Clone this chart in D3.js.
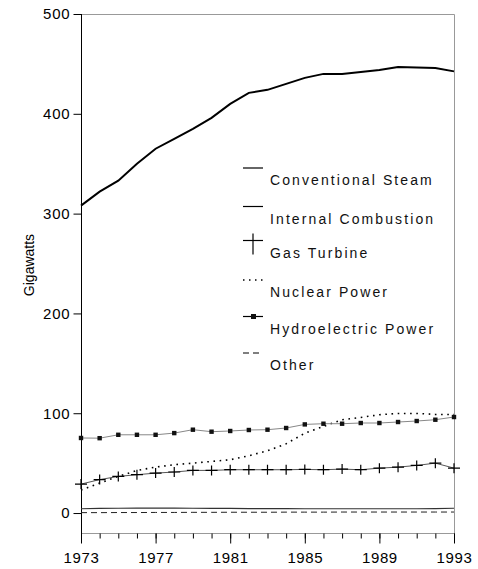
<!DOCTYPE html>
<html>
<head>
<meta charset="utf-8">
<script src="https://cdn.jsdelivr.net/npm/d3@7"></script>
<style>
  html, body { margin: 0; padding: 0; background: #fff; }
  svg { display: block; font-family: "Liberation Sans", Arial, sans-serif; }
</style>
</head>
<body>
<svg id="chart" width="478" height="569"></svg>
<script>
// Installed generating capacity by prime mover, 1973-1993 (gigawatts)
const years = d3.range(1973, 1994);
const conventionalSteam = [308, 322, 333, 350, 365, 375, 385, 396, 410, 421, 424, 430, 436, 440, 440, 442, 444, 447, 446.5, 446, 442.5];
const internalCombustion = [4.3, 4.6, 4.8, 4.9, 4.9, 4.9, 4.8, 4.7, 4.6, 4.5, 4.4, 4.4, 4.3, 4.3, 4.3, 4.3, 4.3, 4.3, 4.3, 4.4, 4.8];
const gasTurbine = [29, 33.5, 36.7, 38.4, 40, 41.1, 42.7, 42.7, 43.4, 43.4, 43.4, 43.4, 43.7, 43.4, 44, 43.4, 45, 46, 47.7, 50, 45];
const nuclearPower = [23, 30, 36.7, 42.7, 46, 48.4, 50, 51.7, 53.4, 57.4, 62.4, 69.4, 80, 86.8, 93.5, 95.8, 98.5, 99.8, 99.8, 98.8, 98.8];
const hydroelectricPower = [75.2, 75, 78.4, 78.4, 78.4, 80.1, 83.5, 81.5, 82.2, 83.2, 83.5, 85.2, 88.8, 89.5, 89.5, 90.2, 90.2, 91.2, 92.2, 93.5, 96.2];
const otherCapacity = [0.4, 0.4, 0.5, 0.5, 0.6, 0.6, 0.7, 0.7, 0.8, 0.8, 0.8, 0.9, 0.9, 0.9, 1.0, 1.0, 1.0, 1.0, 1.0, 1.0, 1.0];
const xTickLabels = [1973, 1977, 1981, 1985, 1989, 1993];
const yTickLabels = [0, 100, 200, 300, 400, 500];
const legendLabels = ["Conventional Steam", "Internal Combustion", "Gas Turbine", "Nuclear Power", "Hydroelectric Power", "Other"];

const svg = d3.select("#chart");
const plotLeft = 81, plotRight = 454, plotTop = 14, plotBottom = 533;

const x = d3.scaleLinear().domain([1973, 1993]).range([plotLeft, plotRight]);
const y = d3.scaleLinear().domain([-20, 500]).range([plotBottom, plotTop]);

// plot frame (top, right, bottom in grey)
svg.append("path")
  .attr("d", `M${plotLeft},${plotTop + 0.5}H${plotRight + 0.5}V${plotBottom + 0.5}H${plotLeft}`)
  .attr("fill", "none").attr("stroke", "#999").attr("stroke-width", 1);

// y axis
const yAxis = svg.append("g").attr("transform", `translate(${plotLeft + 0.5},0)`)
  .call(d3.axisLeft(y).tickValues(yTickLabels).tickSize(8).tickSizeOuter(0).tickPadding(3));
yAxis.select(".domain").attr("d", `M0,${plotTop}V${plotBottom + 10}`).attr("stroke", "#000");
yAxis.selectAll(".tick line").attr("stroke", "#000");
yAxis.selectAll(".tick text").attr("font-size", 15).attr("fill", "#000")
  .attr("font-family", "Liberation Sans, Arial, sans-serif").attr("letter-spacing", 0.8);

// x axis: minor yearly ticks and major ticks every four years
const xg = svg.append("g").attr("transform", `translate(0,${plotBottom + 0.5})`);
xg.call(d3.axisBottom(x).tickValues(years).tickSize(5).tickFormat(""))
  .select(".domain").remove();
xg.selectAll(".tick line").attr("stroke", "#000");
const xMajor = svg.append("g").attr("transform", `translate(0,${plotBottom + 0.5})`)
  .call(d3.axisBottom(x).tickValues(xTickLabels).tickSize(10).tickPadding(9).tickFormat(d3.format("d")));
xMajor.select(".domain").remove();
xMajor.selectAll(".tick line").attr("stroke", "#000");
xMajor.selectAll(".tick text").attr("font-size", 15).attr("fill", "#000")
  .attr("font-family", "Liberation Sans, Arial, sans-serif").attr("letter-spacing", 0.6);

// y axis title
svg.append("text")
  .attr("transform", `translate(34,265) rotate(-90)`)
  .attr("text-anchor", "middle")
  .attr("font-size", 14)
  .text("Gigawatts");

const line = d3.line().x((d, i) => x(years[i])).y(d => y(d));

// series
svg.append("path").datum(otherCapacity).attr("d", line)
  .attr("fill", "none").attr("stroke", "#222").attr("stroke-width", 1).attr("stroke-dasharray", "6,4");
svg.append("path").datum(internalCombustion).attr("d", line)
  .attr("fill", "none").attr("stroke", "#333").attr("stroke-width", 1.2);
svg.append("path").datum(gasTurbine).attr("d", line)
  .attr("fill", "none").attr("stroke", "#555").attr("stroke-width", 1);
svg.append("path").datum(nuclearPower).attr("d", line)
  .attr("fill", "none").attr("stroke", "#000").attr("stroke-width", 1.6)
  .attr("stroke-dasharray", "1.6,4.6");
svg.append("path").datum(hydroelectricPower).attr("d", line)
  .attr("fill", "none").attr("stroke", "#888").attr("stroke-width", 1);
svg.append("path").datum(conventionalSteam).attr("d", line)
  .attr("fill", "none").attr("stroke", "#000").attr("stroke-width", 2);

// markers
svg.append("g").selectAll("path").data(gasTurbine).join("path")
  .attr("d", (d, i) => `M${x(years[i]) - 6},${y(d)}h12M${x(years[i])},${y(d) - 5}v10`)
  .attr("stroke", "#000").attr("stroke-width", 1.2).attr("fill", "none");
svg.append("g").selectAll("rect").data(hydroelectricPower).join("rect")
  .attr("x", (d, i) => x(years[i]) - 2.2).attr("y", d => y(d) - 2.2)
  .attr("width", 4.4).attr("height", 4.4).attr("fill", "#111");

// legend
const legendX = 243, legendLen = 20, textX = 270;
const rowY = [168, 206.5, 240.5, 280, 316.5, 353];
const lg = svg.append("g");
legendLabels.forEach((label, i) => {
  const ly = rowY[i];
  const g = lg.append("g");
  const seg = g.append("line").attr("x1", legendX).attr("x2", legendX + legendLen)
    .attr("y1", ly).attr("y2", ly).attr("stroke", "#000").attr("stroke-width", 1.2);
  if (i === 2) {
    g.append("line").attr("x1", legendX + 10).attr("x2", legendX + 10)
      .attr("y1", ly - 7).attr("y2", ly + 14).attr("stroke", "#000").attr("stroke-width", 1.2);
  }
  if (i === 3) seg.attr("stroke-dasharray", "1.5,4.5").attr("stroke-width", 1.4);
  if (i === 4) {
    g.append("rect").attr("x", legendX + 8).attr("y", ly - 2.5).attr("width", 5).attr("height", 5).attr("fill", "#111");
  }
  if (i === 5) seg.attr("stroke-dasharray", "6,4");
  g.append("text").attr("x", textX).attr("y", ly + 17)
    .attr("font-size", 14).attr("letter-spacing", 2.1).attr("fill", "#111").text(label);
});
</script>
</body>
</html>
